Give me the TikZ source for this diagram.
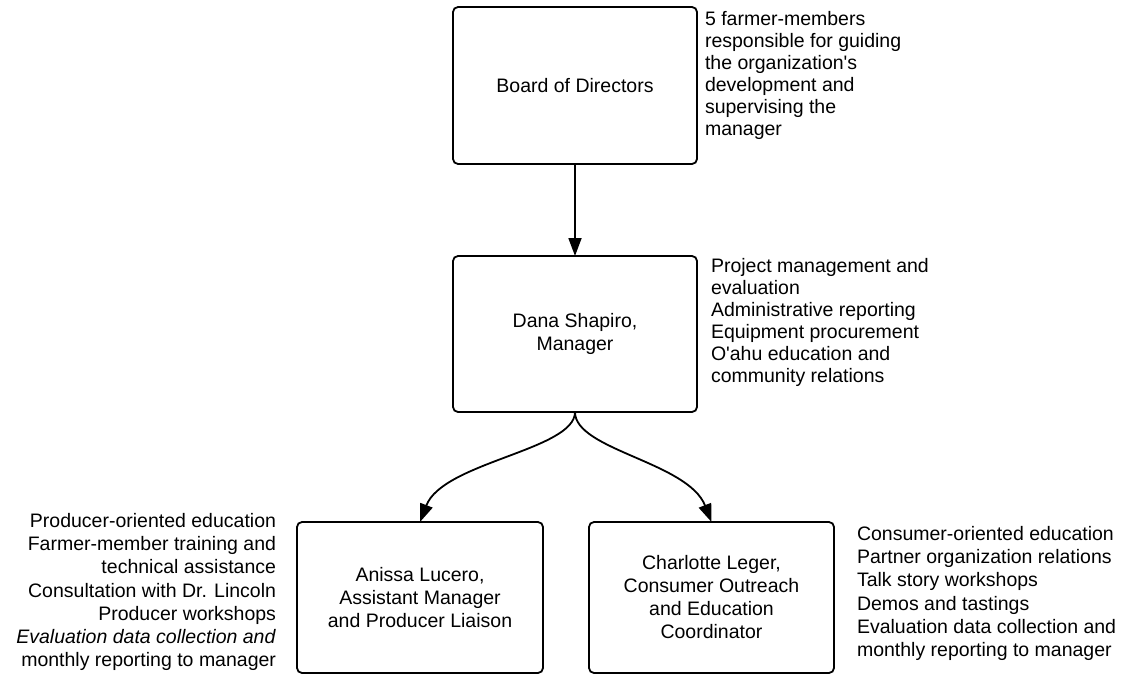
\documentclass[tikz,border=0pt]{standalone}
\usepackage{fontspec}
\setmainfont{Liberation Sans}
\usetikzlibrary{arrows.meta}
\begin{document}
\begin{tikzpicture}[x=1pt,y=-1pt,
  box/.style={draw=black, line width=1.8pt, rounded corners=5pt, inner sep=0pt, outer sep=0pt,
    align=center, font=\fontsize{19.5}{23}\selectfont},
  notetop/.style={inner sep=0pt, outer sep=0pt, font=\fontsize{19.5}{22}\selectfont},
  notebot/.style={inner sep=0pt, outer sep=0pt, font=\fontsize{19.5}{23.3}\selectfont},
  conn/.style={line width=1.8pt, -{Triangle[length=18pt,width=13pt]}}
]
\useasboundingbox[fill=white] (0,0) rectangle (1125,677);

\node[box, minimum width=244pt, minimum height=157pt] (board) at (575,85.5) {Board of Directors};
\node[box, minimum width=244pt, minimum height=156pt] (mgr) at (575,334) {Dana Shapiro,\\Manager};
\node[box, minimum width=246pt, minimum height=151pt] (asst) at (420,597.5) {Anissa Lucero,\\Assistant Manager\\and Producer Liaison};
\node[box, minimum width=245pt, minimum height=151pt] (coord) at (711.5,597.5) {Charlotte Leger,\\Consumer Outreach\\and Education\\Coordinator};

\node[notetop, anchor=north west, align=left] (boardnote) at (705,11)
  {5 farmer-members\\responsible for guiding\\the organization\textquotesingle s\\development and\\supervising the\\manager};
\node[notetop, anchor=north west, align=left] (mgrnote) at (711,258)
  {Project management and\\evaluation\\Administrative reporting\\Equipment procurement\\O\textquotesingle ahu education and\\community relations};
\node[notebot, anchor=north east, align=right] (asstnote) at (276,513)
  {Producer-oriented education\\Farmer-member training and\\technical assistance\\Consultation with Dr. Lincoln\\Producer workshops\\\textit{Evaluation data collection and}\\monthly reporting to manager};
\node[notebot, anchor=north west, align=left] (coordnote) at (857,526)
  {Consumer-oriented education\\Partner organization relations\\Talk story workshops\\Demos and tastings\\Evaluation data collection and\\monthly reporting to manager};

\draw[conn] (board.south) -- (mgr.north);
\draw[conn] (mgr.south) .. controls (575,450) and (688,462) .. (coord.north);
\draw[conn] (mgr.south) .. controls (575,450) and (443,462) .. (asst.north);
\end{tikzpicture}
\end{document}
